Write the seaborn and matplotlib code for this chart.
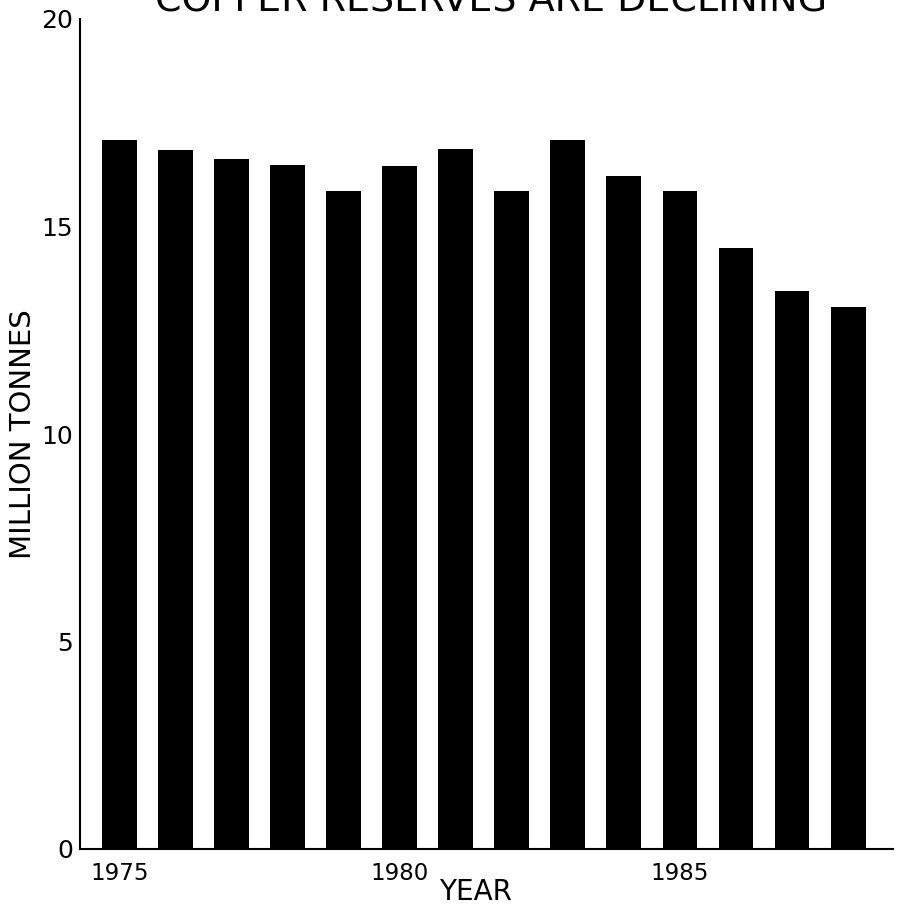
import matplotlib
matplotlib.use("Agg")
import matplotlib.pyplot as plt
import seaborn as sns
import pandas as pd

years = [1975, 1976, 1977, 1978, 1979, 1980, 1981, 1982, 1983, 1984, 1985, 1986, 1987, 1988]
reserves = [17.08, 16.84, 16.62, 16.48, 15.86, 16.45, 16.87, 15.85, 17.08, 16.22, 15.86, 14.47, 13.45, 13.06]
shown_year_labels = [1975, 1980, 1985]
y_ticks = [0, 5, 10, 15, 20]

sns.set_theme(style="white")
plt.rcParams['font.family'] = ['DejaVu Sans']

df = pd.DataFrame({"year": [str(y) for y in years], "reserves": reserves})

fig = plt.figure(figsize=(9.04, 9.10), dpi=100)
ax = fig.add_axes([80/904, 61/910, (893-80)/904, (849-19)/910])

sns.barplot(data=df, x="year", y="reserves", color="black", width=0.62,
            saturation=1, ax=ax, edgecolor="black", linewidth=0)

ax.set_ylim(0, 20)
ax.set_xlim(-0.7, 13.8)
ax.set_yticks(y_ticks)
ax.set_yticklabels([str(t) for t in y_ticks], fontsize=18)
pos = [years.index(y) for y in shown_year_labels]
ax.set_xticks(pos)
ax.set_xticklabels([str(y) for y in shown_year_labels], fontsize=16.5)
ax.tick_params(axis='y', direction='in', length=7, width=1.5, color='black', pad=5, labelcolor='black')
ax.tick_params(axis='x', length=0, pad=9, labelcolor='black')

for s in ['top', 'right']:
    ax.spines[s].set_visible(False)
for s in ['left', 'bottom']:
    ax.spines[s].set_color('black')
    ax.spines[s].set_linewidth(1.5)

ax.set_xlabel("YEAR", fontsize=20, color='black', labelpad=-5, x=(475-80)/813)
ax.set_ylabel("MILLION TONNES", fontsize=21, color='black', labelpad=3)

fig.text(0.543, 1 - 11/910, "COPPER RESERVES ARE DECLINING", ha='center', va='baseline',
         fontsize=27.4, color='black')

fig.savefig("out.png", dpi=100, facecolor='white')
